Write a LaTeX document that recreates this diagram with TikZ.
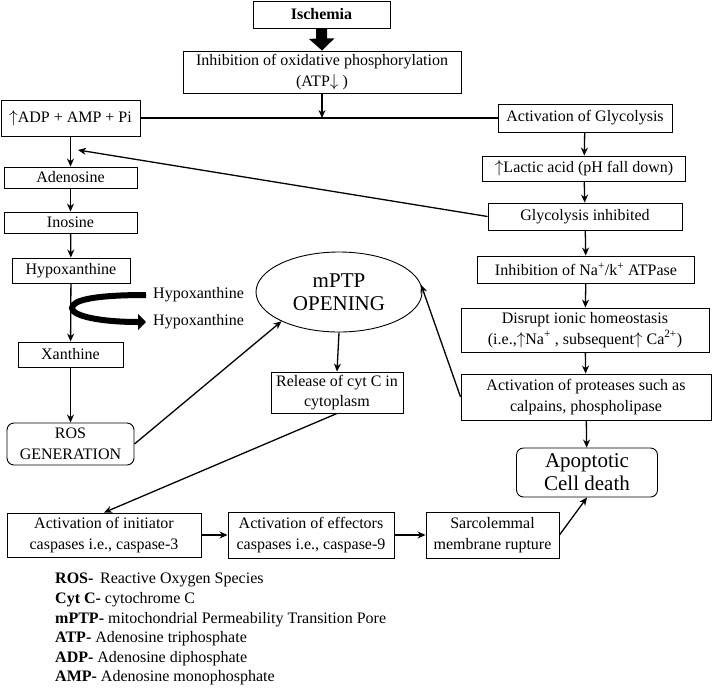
\documentclass[tikz,border=0pt]{standalone}
\usepackage{fontspec}
\setmainfont{Liberation Serif}
\usepackage{tikz}
\usetikzlibrary{arrows.meta,shapes.geometric}

\tikzset{
  box/.style={draw, line width=0.9pt, align=center, inner sep=0pt},
  rbox/.style={box, rounded corners=7pt},
  big/.style={font=\fontsize{21}{23}\selectfont},
  arr/.style={line width=1.3pt, -{Stealth[length=8pt,width=7pt]}},
  legend/.style={anchor=west, inner sep=0pt}
}

\begin{document}
\begin{tikzpicture}[x=1pt,y=-1pt,font=\fontsize{16}{20.5}\selectfont]
  \useasboundingbox (0,0) rectangle (714,691);
  % top of the cascade
  \node[box, minimum width=137, minimum height=27] (isch) at (321.5,14.5) {\textbf{Ischemia}};
  \node[box, minimum width=278, minimum height=42] (oxph) at (322,72) {Inhibition of oxidative phosphorylation\\(ATP$\downarrow$ )};
  \node[box, minimum width=139, minimum height=36] (adp) at (70.5,118) {$\uparrow$ADP + AMP + Pi};
  \node[box, minimum width=174, minimum height=28] (glyact) at (585,118) {Activation of Glycolysis};
  % right column
  \node[box, minimum width=203, minimum height=25] (lactic) at (584,168.5) {$\uparrow$Lactic acid (pH fall down)};
  \node[box, minimum width=194, minimum height=27] (glyinh) at (585,216.5) {Glycolysis inhibited};
  \node[box, minimum width=217, minimum height=27] (nak) at (586,269.5) {Inhibition of Na\textsuperscript{+}/k\textsuperscript{+} ATPase};
  \node[box, minimum width=248, minimum height=44] (ionic) at (585,330) {Disrupt ionic homeostasis\\(i.e.,$\uparrow$Na\textsuperscript{+} , subsequent$\uparrow$ Ca\textsuperscript{2+})};
  \node[box, minimum width=250, minimum height=46] (protease) at (586,397) {Activation of proteases such as\\calpains, phospholipase};
  \node[rbox, big, minimum width=141, minimum height=49] (apop) at (587,472.5) {Apoptotic\\Cell death};
  % left column
  \node[box, minimum width=133, minimum height=21] (adeno) at (70.5,177.5) {Adenosine};
  \node[box, minimum width=133, minimum height=21] (inos) at (70.5,222.5) {Inosine};
  \node[box, minimum width=118, minimum height=25] (hypox) at (71,270.5) {Hypoxanthine};
  \node[box, minimum width=105, minimum height=25] (xanth) at (70.5,354.5) {Xanthine};
  \node[rbox, minimum width=127, minimum height=42] (ros) at (70.5,444) {ROS\\GENERATION};
  % middle
  \node[draw, ellipse, line width=0.9pt, big, inner sep=0pt, minimum width=166, minimum height=80, align=center] (mptp) at (339,292) {mPTP\\OPENING};
  \node[box, minimum width=132, minimum height=41] (cytc) at (337,392.5) {Release of cyt C in\\cytoplasm};
  % bottom row
  \node[box, minimum width=194, minimum height=44] (init) at (104,535) {Activation of initiator\\caspases i.e., caspase-3};
  \node[box, minimum width=166, minimum height=46] (effec) at (311,535) {Activation of effectors\\caspases i.e., caspase-9};
  \node[box, minimum width=133, minimum height=46] (sarco) at (492.5,535) {Sarcolemmal\\membrane rupture};
  % side labels
  \node[anchor=west, inner sep=0pt] (hyp1) at (153,295) {Hypoxanthine};
  \node[anchor=west, inner sep=0pt] (hyp2) at (153,322) {Hypoxanthine};
  \coordinate (hx1) at (146,295);
  \coordinate (hx2) at (146,322);
  \coordinate (jn) at (oxph.south |- adp.east);
  \coordinate (adpin) at (78,150);

  \draw[line width=11pt, -{Triangle[length=12pt,width=25pt]}] (isch.south) -- (oxph.north);
  \draw[line width=1.3pt] (adp.east) -- (glyact.west);
  \draw[arr] (oxph.south) -- (jn);
  \draw[arr] (glyact) -- (lactic);
  \draw[arr] (lactic) -- (glyinh);
  \draw[arr] (glyinh) -- (nak);
  \draw[arr] (nak) -- (ionic);
  \draw[arr] (ionic) -- (protease);
  \draw[arr] (protease) -- (apop);
  \draw[arr] (glyinh.west) -- (adpin);
  \draw[arr] (adp) -- (adeno);
  \draw[arr] (adeno) -- (inos);
  \draw[arr] (inos) -- (hypox);
  \draw[arr] (hypox) -- (xanth);
  \draw[arr] (xanth) -- (ros);
  \draw[line width=6pt, -{Triangle[length=8pt,width=16pt]}] (hx1) .. controls (95,295) and (72,300) .. (72,308) .. controls (72,316) and (100,322) .. (hx2);
  \draw[arr] (ros.east) -- (mptp.207);
  \draw[arr] (protease.west) -- (mptp.5);
  \draw[arr] (mptp.south) -- (cytc.north);
  \draw[arr] (cytc.south) -- (init.north);
  \draw[arr] (init) -- (effec);
  \draw[arr] (effec) -- (sarco);
  \draw[arr] (sarco.east) -- (apop.south);

  % abbreviations
  \node[legend] (lros) at (55,580) {\textbf{ROS-}\, Reactive Oxygen Species};
  \node[legend] (lcyt) at (55,599.6) {\textbf{Cyt C-} cytochrome C};
  \node[legend] (lmptp) at (55,619.2) {\textbf{mPTP-} mitochondrial Permeability Transition Pore};
  \node[legend] (latp) at (55,638.8) {\textbf{ATP-} Adenosine triphosphate};
  \node[legend] (ladp) at (55,658.4) {\textbf{ADP-} Adenosine diphosphate};
  \node[legend] (lamp) at (55,678) {\textbf{AMP-} Adenosine monophosphate};
\end{tikzpicture}
\end{document}
